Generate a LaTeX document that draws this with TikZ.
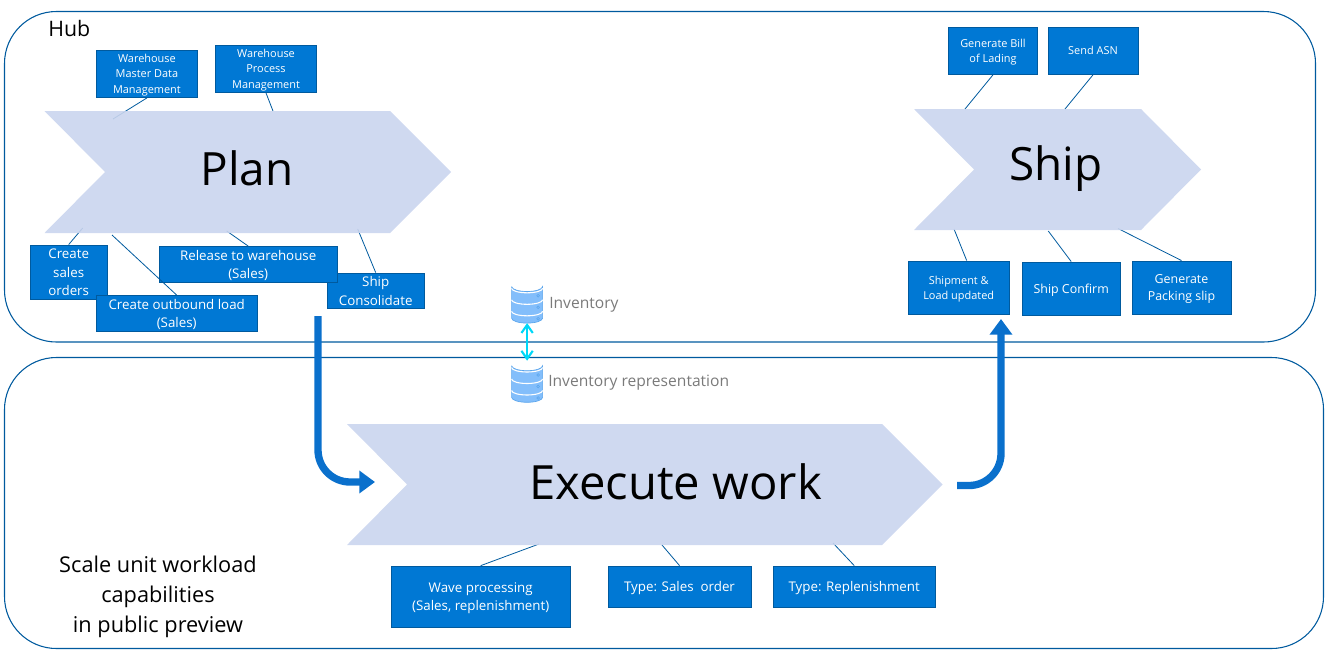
\documentclass[tikz,border=0pt]{standalone}
\usepackage{fontspec}
\setmainfont{Open Sans}
\usetikzlibrary{arrows.meta}
\definecolor{boxblue}{HTML}{0078D4}
\definecolor{boxedge}{HTML}{005A9E}
\definecolor{bigarrow}{HTML}{0A70CC}
\definecolor{chevblue}{RGB}{202,213,238}
\definecolor{dbfill}{HTML}{83BEFB}
\definecolor{dbedge}{HTML}{5AA5EC}
\definecolor{linkcyan}{HTML}{00D8F8}
\tikzset{
  region/.style={draw=boxedge,line width=0.8pt,rounded corners=39pt},
  chevron/.style={fill=chevblue,fill opacity=0.9},
  chevlabel/.style={text=black,inner sep=0pt},
  taskbox/.style={draw=boxedge,fill=boxblue,text=white,align=center,inner sep=0pt,line width=0.6pt,text depth=0pt},
  smalltask/.style={taskbox,font=\fontsize{8.2}{11.3}\selectfont},
  midtask/.style={taskbox,font=\fontsize{9.3}{12.8}\selectfont},
  bigtask/.style={taskbox,font=\fontsize{10}{14}\selectfont},
  tick/.style={draw=boxedge,line width=0.6pt},
  flow/.style={draw=bigarrow,line width=5.5pt,rounded corners=24pt,-{Triangle[length=11.8pt,width=16.5pt]}},
  dblabel/.style={text=black!52,inner sep=0pt,anchor=west,font=\fontsize{11.7}{14}\selectfont},
  dbicon/.pic={
    \path[draw=dbedge,fill=dbfill,line width=0.5pt] (-15.5,-15.8) -- (-15.5,15.8)
      arc[start angle=180,end angle=360,x radius=15.5,y radius=-5] -- (15.5,-15.8)
      arc[start angle=0,end angle=180,x radius=15.5,y radius=5];
    \foreach \ysep in {-14,-2.5,9} {
      \path[draw=white,line width=0.8pt] (-15.5,\ysep) arc[start angle=180,end angle=360,x radius=15.5,y radius=-4.5];
      \path[draw=dbedge,line width=0.4pt] (11,\ysep+7.5) circle (1.4);
    }
    \coordinate (-top) at (0,-20.8);
    \coordinate (-bottom) at (0,20.8);
  }
}
\begin{document}
\begin{tikzpicture}[x=0.75pt,y=-0.75pt]
\useasboundingbox (0,0) rectangle (1327,661);
% Regions
\path[region] (4.5,11.5) rectangle (1315.5,342);
\path[region] (4.5,357.5) rectangle (1323.5,648.5);
\node[inner sep=0pt,anchor=west,font=\fontsize{16}{19}\selectfont] (hub) at (48,28) {Hub};
\node[inner sep=0pt,align=center,font=\fontsize{16.3}{22.5}\selectfont] (scaleunit) at (158,596.5) {Scale unit workload\\capabilities\\in public preview};
% Task boxes
\node[smalltask,minimum width=75.9pt,minimum height=35.6pt] (wmd) at (146.9,73.8) {Warehouse\\Master Data\\Management};
\node[smalltask,minimum width=75.9pt,minimum height=35.6pt] (wpm) at (266,68.8) {Warehouse\\Process\\Management};
\node[bigtask,minimum width=58.1pt,minimum height=40.9pt] (salesorders) at (68.7,272.2) {Create\\sales\\orders};
\node[bigtask,minimum width=121.1pt,minimum height=27pt] (outbound) at (176.7,313.5) {Create outbound load\\(Sales)};
\node[bigtask,minimum width=73.1pt,minimum height=26.6pt] (consolidate) at (375.7,290.7) {Ship\\Consolidate};
\node[bigtask,minimum width=133.9pt,minimum height=27pt] (release) at (248.2,264.5) {Release to warehouse\\(Sales)};
\node[smalltask,minimum width=67pt,minimum height=35.6pt] (bill) at (993,50.7) {Generate Bill\\of Lading};
\node[smalltask,minimum width=67.5pt,minimum height=35.6pt] (asn) at (1093,50.7) {Send ASN};
\node[smalltask,minimum width=76.1pt,minimum height=40.1pt] (shipment) at (958.7,287.7) {Shipment \&\\Load updated};
\node[midtask,minimum width=73.9pt,minimum height=40.1pt] (confirm) at (1071.2,288.7) {Ship Confirm};
\node[midtask,minimum width=74.2pt,minimum height=40.1pt] (packing) at (1181.5,287.7) {Generate\\Packing slip};
\node[bigtask,minimum width=134.6pt,minimum height=45.7pt] (wave) at (480.7,596.5) {Wave processing\\(Sales, replenishment)};
\node[bigtask,minimum width=107.2pt,minimum height=31.1pt] (typesales) at (679.5,586.7) {Type: Sales\ \ order};
\node[bigtask,minimum width=121.9pt,minimum height=31.1pt] (typerepl) at (854.2,586.7) {Type: Replenishment};
% Ticks, under the chevrons
\coordinate (planA) at (113,119);
\coordinate (planB) at (273,111);
\coordinate (planC) at (82.7,228);
\coordinate (planD) at (112,235);
\coordinate (planE) at (226.7,231);
\coordinate (planF) at (357.7,229);
\coordinate (shipA) at (965,109);
\coordinate (shipB) at (1065,109);
\coordinate (shipC) at (954,229);
\coordinate (shipD) at (1048.3,231);
\coordinate (shipE) at (1118,228.5);
\coordinate (execA) at (539,544);
\coordinate (execB) at (662,545);
\coordinate (execC) at (833,543);
\path[tick] (wmd.south) -- (planA);
\path[tick] (wpm.south) -- (planB);
\path[tick] (salesorders.north) -- (planC);
\path[tick] (outbound.north) -- (planD);
\path[tick] (release.north) -- (planE);
\path[tick] (consolidate.north) -- (planF);
\path[tick] (bill.south) -- (shipA);
\path[tick] (asn.south) -- (shipB);
\path[tick] ([xshift=6pt]shipment.north) -- (shipC);
\path[tick] (confirm.north) -- (shipD);
\path[tick] (packing.north) -- (shipE);
\path[tick] (wave.north) -- (execA);
\path[tick] (typesales.north) -- (execB);
\path[tick] (typerepl.north) -- (execC);
% Chevrons
\path[chevron] (44.5,111) -- (390,111) -- (451,172) -- (390,233) -- (44.5,233) -- (105,172) -- cycle;
\path[chevron] (914,109) -- (1141,109) -- (1201,169.5) -- (1141,230) -- (914,230) -- (974,169.5) -- cycle;
\path[chevron] (347,424) -- (882,424) -- (942.5,484.5) -- (882,545) -- (347,545) -- (407,484.5) -- cycle;
\node[chevlabel,font=\fontsize{34.4}{40}\selectfont] (plan) at (247,168.5) {Plan};
\node[chevlabel,font=\fontsize{34.4}{40}\selectfont] (ship) at (1056,169) {Ship};
\node[chevlabel,font=\fontsize{35.4}{40}\selectfont] (execute) at (675.5,481.5) {Execute work};
% Inventory
\pic (inv) at (527.1,302.3) {dbicon};
\pic (rep) at (527.1,381.5) {dbicon};
\node[dblabel] (invlabel) at (549,305) {Inventory};
\node[dblabel] (replabel) at (548,382.5) {Inventory representation};
\path[draw=linkcyan,line width=1.6pt,{Straight Barb[length=6pt,width=8.5pt]}-{Straight Barb[length=6pt,width=8.5pt]}] (inv-bottom) -- (rep-top);
% Flow arrows
\coordinate (planout) at (318,316);
\coordinate (planbend) at (318,482);
\coordinate (execin) at (375,482);
\coordinate (execout) at (957,485.5);
\coordinate (shipbend) at (1001,485.5);
\coordinate (shipin) at (1001,319);
\path[flow] (planout) -- (planbend) -- (execin);
\path[flow] (execout) -- (shipbend) -- (shipin);
\end{tikzpicture}
\end{document}
